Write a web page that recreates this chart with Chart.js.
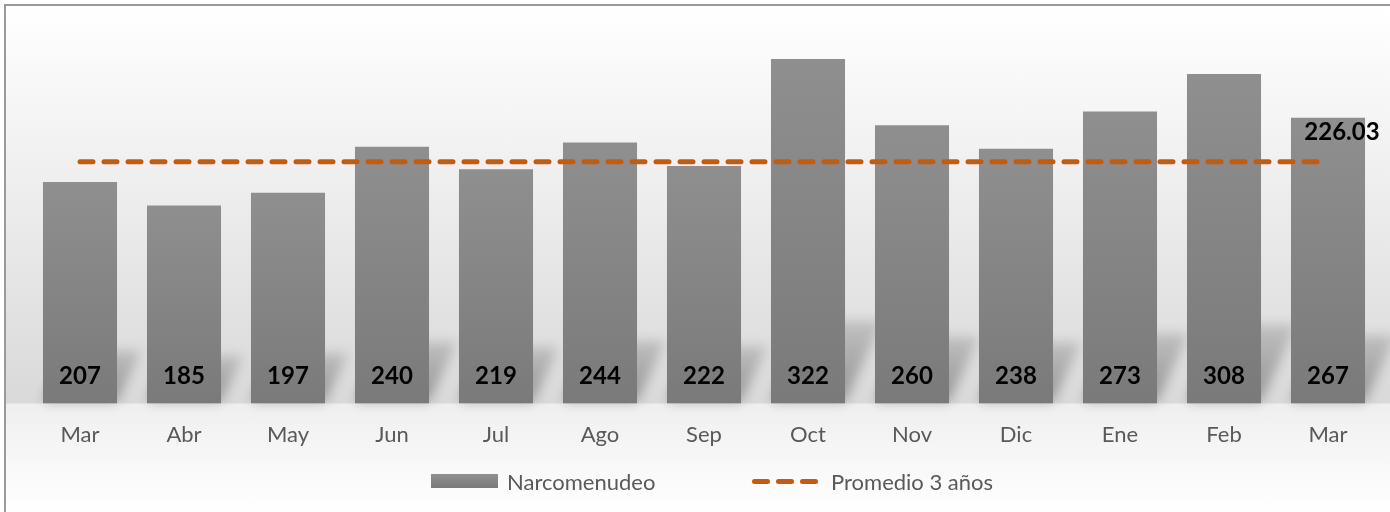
<!DOCTYPE html>
<html>
<head>
<meta charset="utf-8">
<script src="https://cdn.jsdelivr.net/npm/chart.js@4.4.1/dist/chart.umd.min.js"></script>
<style>
  html, body { margin: 0; padding: 0; background: #fff; overflow: hidden; }
  #frame {
    position: absolute; left: 4px; top: 4px; width: 1400px; height: 520px;
    border-left: 2px solid #9a9a9a; border-top: 2px solid #9a9a9a;
    background: linear-gradient(to bottom, #ffffff 0px, #f1f1f1 150px, #d9d9d9 397px, #efefef 398px, #ffffff 506px);
  }
  #wrap { position: absolute; left: 0; top: 0; width: 1390px; height: 512px; }
  .legend-item {
    position: absolute; top: 468px; height: 26px; display: flex; align-items: center;
    font-family: Lato, sans-serif; font-size: 22px; color: #595959;
  }
  .swatch-bar { width: 67px; height: 14px; background: linear-gradient(to bottom, #909090, #7a7a7a); margin-right: 9px; }
  .swatch-line { display: flex; width: 68px; margin-right: 11px; }
  .swatch-line span { width: 18px; height: 5px; border-radius: 3px; background: #c55a11; margin-right: 6px; }
  .swatch-line span:last-child { margin-right: 0; }
</style>
</head>
<body>
<div id="frame"></div>
<div id="wrap"><canvas id="chart" width="1390" height="512"></canvas></div>
<div class="legend-item" style="left:431px"><div class="swatch-bar"></div>Narcomenudeo</div>
<div class="legend-item" style="left:752px"><div class="swatch-line"><span></span><span></span><span></span></div>Promedio 3 años</div>

<script>
// ---- data ----
const months = ['Mar', 'Abr', 'May', 'Jun', 'Jul', 'Ago', 'Sep', 'Oct', 'Nov', 'Dic', 'Ene', 'Feb', 'Mar'];
const narcomenudeo = [207, 185, 197, 240, 219, 244, 222, 322, 260, 238, 273, 308, 267];
const promedio3 = [226.03, 226.03, 226.03, 226.03, 226.03, 226.03, 226.03, 226.03, 226.03, 226.03, 226.03, 226.03, 226.03];
const yRange = [0, 350];

const ORANGE = '#c55a11';

// bar fill: gradient per bar, lighter on top
function barFill(context) {
  const chart = context.chart;
  const y = chart.scales.y;
  if (context.type !== 'data' || !chart.chartArea || !y) return '#888888';
  const top = y.getPixelForValue(context.raw);
  const base = y.getPixelForValue(0);
  if (!isFinite(top) || !isFinite(base)) return '#888888';
  const g = chart.ctx.createLinearGradient(0, top, 0, base);
  g.addColorStop(0, '#8f8f8f');
  g.addColorStop(1, '#7a7a7a');
  return g;
}

// soft perspective shadow behind every bar
const barShadow = {
  id: 'barShadow',
  beforeDatasetsDraw(chart) {
    const ctx = chart.ctx;
    const meta = chart.getDatasetMeta(0);
    ctx.save();
    ctx.filter = 'blur(6px)';
    meta.data.forEach(bar => {
      const h = (bar.base - bar.y) * 0.24;
      const d = h * 0.45;
      const left = bar.x - bar.width / 2;
      const right = bar.x + bar.width / 2;
      const g = ctx.createLinearGradient(0, bar.base, 0, bar.base - h);
      g.addColorStop(0, 'rgba(0,0,0,0.32)');
      g.addColorStop(1, 'rgba(0,0,0,0.14)');
      ctx.fillStyle = g;
      ctx.beginPath();
      ctx.moveTo(left, bar.base - 2);
      ctx.lineTo(right, bar.base - 2);
      ctx.lineTo(right + d, bar.base - h);
      ctx.lineTo(left + d, bar.base - h);
      ctx.closePath();
      ctx.fill();
    });
    ctx.restore();
  }
};

// value labels: bars at the base, average on the last point
const valueLabels = {
  id: 'valueLabels',
  afterDatasetsDraw(chart) {
    const ctx = chart.ctx;
    ctx.save();
    ctx.font = 'bold 24px Lato, sans-serif';
    ctx.fillStyle = '#000';
    ctx.textAlign = 'center';
    ctx.textBaseline = 'middle';
    chart.getDatasetMeta(0).data.forEach((bar, i) => {
      ctx.fillText(String(narcomenudeo[i]), bar.x, bar.base - 27);
    });
    const pts = chart.getDatasetMeta(1).data;
    const last = pts[pts.length - 1];
    ctx.fillText(promedio3[promedio3.length - 1].toFixed(2), last.x + 14, last.y - 29);
    ctx.restore();
  }
};

new Chart(document.getElementById('chart'), {
  type: 'bar',
  data: {
    labels: months,
    datasets: [
      {
        label: 'Narcomenudeo',
        data: narcomenudeo,
        backgroundColor: barFill,
        categoryPercentage: 1,
        barPercentage: 0.712,
        order: 2
      },
      {
        type: 'line',
        label: 'Promedio 3 años',
        data: promedio3,
        borderColor: ORANGE,
        borderWidth: 5,
        borderDash: [13, 11],
        borderCapStyle: 'round',
        pointRadius: 0,
        fill: false,
        order: 1
      }
    ]
  },
  options: {
    responsive: false,
    animation: false,
    layout: { padding: { left: 28, right: 10, top: 29, bottom: 46 } },
    scales: {
      x: {
        grid: { display: false, drawTicks: false },
        border: { display: false },
        ticks: { color: '#595959', font: { family: 'Lato', size: 22 }, padding: 18 }
      },
      y: { display: false, min: yRange[0], max: yRange[1] }
    },
    plugins: {
      legend: { display: false },
      tooltip: { enabled: false }
    }
  },
  plugins: [barShadow, valueLabels]
});
</script>
</body>
</html>
